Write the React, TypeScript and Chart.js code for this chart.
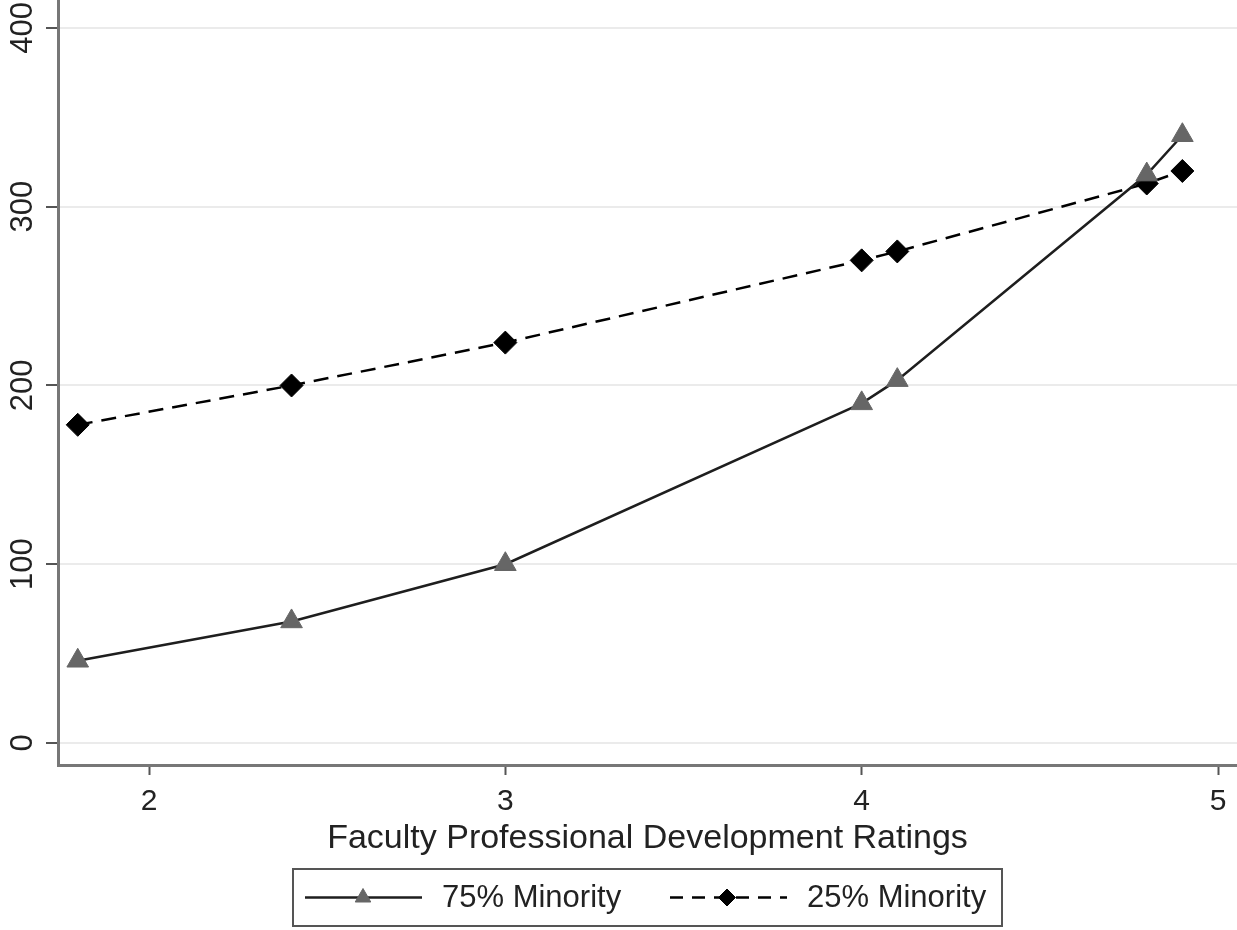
import React, { useEffect, useRef } from "react";
import { Chart, registerables } from "chart.js";

Chart.register(...registerables);

const xValues = [1.8, 2.4, 3, 4, 4.1, 4.8, 4.9];
const minority75 = [46, 68, 100, 190, 203, 318, 340];
const minority25 = [178, 200, 224, 270, 275, 313, 320];
const seriesLabels = ["75% Minority", "25% Minority"];
const xTicks = [2, 3, 4, 5];
const yTicks = [0, 100, 200, 300, 400];
const xTitle = "Faculty Professional Development Ratings";

const FONT = "'Liberation Sans', Arial, sans-serif";

function drawMarker(ctx: CanvasRenderingContext2D, style: string, x: number, y: number, r: number) {
  ctx.beginPath();
  if (style === "triangle") {
    ctx.moveTo(x, y - r);
    ctx.lineTo(x + r * Math.sin(Math.PI * 2 / 3), y + r / 2);
    ctx.lineTo(x - r * Math.sin(Math.PI * 2 / 3), y + r / 2);
  } else {
    ctx.moveTo(x, y - r);
    ctx.lineTo(x + r, y);
    ctx.lineTo(x, y + r);
    ctx.lineTo(x - r, y);
  }
  ctx.closePath();
  ctx.fill();
  ctx.stroke();
}

const legendPlugin = {
  id: "boxLegend",
  afterDraw(chart: any) {
    const { ctx, chartArea } = chart;
    const boxW = 709;
    const boxH = 57;
    const cx = (chartArea.left + chartArea.right) / 2;
    const left = cx - boxW / 2;
    const top = chart.height - 61;
    ctx.save();
    ctx.strokeStyle = "#555";
    ctx.lineWidth = 2;
    ctx.strokeRect(left, top, boxW, boxH);
    const cy = top + boxH / 2;
    const items = [
      { ds: chart.data.datasets[0], from: 12, to: 129, marker: 70, text: 149, r: 9 },
      { ds: chart.data.datasets[1], from: 377, to: 494, marker: 434, text: 514, r: 8.5 },
    ];
    items.forEach((it) => {
      ctx.save();
      ctx.strokeStyle = it.ds.borderColor;
      ctx.lineWidth = it.ds.borderWidth;
      ctx.setLineDash(it.ds.borderDash ? [13, 9] : []);
      ctx.beginPath();
      ctx.moveTo(left + it.from, cy);
      ctx.lineTo(left + it.to, cy);
      ctx.stroke();
      ctx.restore();
      ctx.save();
      ctx.fillStyle = it.ds.pointBackgroundColor;
      ctx.strokeStyle = it.ds.pointBorderColor;
      ctx.lineWidth = 1;
      drawMarker(ctx, it.ds.pointStyle, left + it.marker, cy, it.r);
      ctx.restore();
      ctx.fillStyle = "#222";
      ctx.font = `31px ${FONT}`;
      ctx.textBaseline = "middle";
      ctx.textAlign = "left";
      ctx.fillText(it.ds.label, left + it.text, cy + 1);
    });
    ctx.restore();
  },
};

export default function App() {
  const ref = useRef<HTMLCanvasElement>(null);
  useEffect(() => {
    if (!ref.current) return;
    const chart = new Chart(ref.current, {
      type: "line",
      data: {
        datasets: [
          {
            label: seriesLabels[0],
            data: xValues.map((x, i) => ({ x, y: minority75[i] })),
            borderColor: "#1e1e1e",
            borderWidth: 2.5,
            pointStyle: "triangle",
            pointRadius: 12.5,
            pointBackgroundColor: "#666",
            pointBorderColor: "#666",
            pointBorderWidth: 1,
            tension: 0,
            fill: false,
          },
          {
            label: seriesLabels[1],
            data: xValues.map((x, i) => ({ x, y: minority25[i] })),
            borderColor: "#000",
            borderWidth: 2.5,
            borderDash: [15, 9],
            pointStyle: "rectRot",
            pointRadius: 11.5,
            pointBackgroundColor: "#000",
            pointBorderColor: "#000",
            pointBorderWidth: 1,
            tension: 0,
            fill: false,
          },
        ],
      },
      options: {
        responsive: false,
        animation: false,
        devicePixelRatio: 1,
        layout: { autoPadding: false, padding: { top: 0, left: 0, right: 0, bottom: 70 } },
        plugins: { legend: { display: false }, tooltip: { enabled: false } },
        scales: {
          x: {
            type: "linear",
            min: 1.7446,
            max: 5.0533,
            afterBuildTicks: (s: any) => {
              s.ticks = xTicks.map((v) => ({ value: v }));
            },
            afterFit: (s: any) => {
              s.height = 95;
              s.paddingLeft = 0;
              s.paddingRight = 0;
            },
            ticks: {
              callback: (v: any) => String(v),
              font: { family: FONT, size: 30 },
              color: "#222",
              padding: 9,
              maxRotation: 0,
              minRotation: 0,
            },
            grid: {
              drawOnChartArea: false,
              drawTicks: true,
              tickLength: 10,
              tickWidth: 2,
              tickColor: "#555",
            },
            border: { color: "#777", width: 3 },
            title: {
              display: true,
              text: xTitle,
              font: { family: FONT, size: 34 },
              color: "#222",
              padding: { top: 0, bottom: 1 },
            },
          },
          y: {
            type: "linear",
            min: -12.31,
            max: 415.66,
            afterBuildTicks: (s: any) => {
              s.ticks = yTicks.map((v) => ({ value: v }));
            },
            afterFit: (s: any) => {
              s.width = 58;
              s.paddingTop = 0;
              s.paddingBottom = 0;
            },
            ticks: {
              callback: (v: any) => String(v),
              font: { family: FONT, size: 31 },
              color: "#222",
              padding: -3,
              minRotation: 90,
              maxRotation: 90,
              crossAlign: "center",
            },
            grid: {
              color: "#ebebeb",
              lineWidth: 2,
              tickLength: 12,
              tickWidth: 2,
              tickColor: "#555",
            },
            border: { color: "#777", width: 3 },
          },
        },
      },
      plugins: [legendPlugin],
    } as any);
    return () => chart.destroy();
  }, []);
  return (
    <div style={{ position: "fixed", left: 0, top: 0, width: 1237, height: 930, background: "#fff" }}>
      <canvas ref={ref} width={1237} height={930} />
    </div>
  );
}
